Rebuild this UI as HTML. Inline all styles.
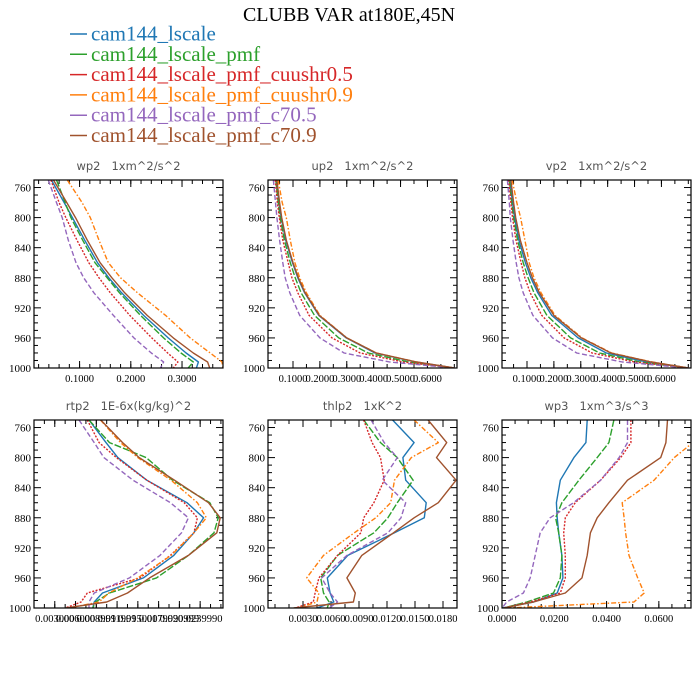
<!DOCTYPE html>
<html><head><meta charset="utf-8"><style>
html,body{margin:0;padding:0;background:#fff;}
svg{display:block;}
text{white-space:pre;}
</style></head><body>
<svg id="chart" width="700" height="700" viewBox="0 0 700 700" xmlns="http://www.w3.org/2000/svg">
<text x="349" y="21" text-anchor="middle" font-family="Liberation Serif, serif" font-size="20" fill="#000">CLUBB VAR at180E,45N</text>
<g id="legend"></g>
<g id="panels"></g>
</svg>
<script>
const seriesNames = ["cam144_lscale","cam144_lscale_pmf","cam144_lscale_pmf_cuushr0.5","cam144_lscale_pmf_cuushr0.9","cam144_lscale_pmf_c70.5","cam144_lscale_pmf_c70.9"];
const levels = [750,780,800,830,860,880,900,930,960,980,992,1000];

const wp2Blue   = [0.045,0.070,0.086,0.110,0.135,0.157,0.182,0.225,0.273,0.308,0.332,0.328];
const wp2Green  = [0.055,0.072,0.083,0.106,0.130,0.154,0.178,0.219,0.264,0.298,0.322,0.312];
const wp2Red    = [0.044,0.060,0.073,0.095,0.118,0.138,0.160,0.198,0.241,0.272,0.292,0.283];
const wp2Orange = [0.076,0.105,0.121,0.138,0.156,0.180,0.213,0.268,0.316,0.355,0.378,0.380];
const wp2Purple = [0.039,0.055,0.066,0.078,0.093,0.108,0.128,0.166,0.206,0.240,0.264,0.258];
const wp2Brown  = [0.049,0.075,0.092,0.115,0.140,0.163,0.188,0.232,0.283,0.322,0.350,0.354];

const up2Blue   = [0.038,0.048,0.056,0.073,0.098,0.118,0.143,0.196,0.298,0.405,0.555,0.700];
const up2Green  = [0.036,0.045,0.052,0.068,0.090,0.108,0.130,0.180,0.270,0.380,0.530,0.700];
const up2Red    = [0.034,0.042,0.049,0.062,0.082,0.096,0.118,0.160,0.245,0.350,0.510,0.700];
const up2Orange = [0.045,0.060,0.075,0.090,0.107,0.125,0.150,0.200,0.300,0.410,0.560,0.700];
const up2Purple = [0.027,0.035,0.040,0.050,0.062,0.071,0.088,0.125,0.200,0.290,0.460,0.700];
const up2Brown  = [0.040,0.050,0.058,0.075,0.100,0.120,0.145,0.198,0.300,0.410,0.560,0.700];

const vp2Blue   = [0.036,0.046,0.054,0.070,0.094,0.114,0.140,0.192,0.290,0.395,0.545,0.700];
const vp2Green  = [0.034,0.043,0.050,0.065,0.086,0.104,0.126,0.174,0.262,0.370,0.520,0.700];
const vp2Red    = [0.032,0.040,0.046,0.059,0.078,0.092,0.112,0.155,0.238,0.342,0.500,0.700];
const vp2Orange = [0.045,0.062,0.076,0.092,0.108,0.126,0.152,0.204,0.305,0.415,0.565,0.700];
const vp2Purple = [0.027,0.034,0.038,0.048,0.060,0.070,0.086,0.122,0.195,0.285,0.455,0.700];
const vp2Brown  = [0.040,0.050,0.058,0.075,0.100,0.120,0.146,0.200,0.302,0.412,0.562,0.700];

const rtp2Blue   = [7.95,10.4,12.1,16.3,22.1,24.5,23.1,20.2,15.8,9.9,8.7,8.5];
const rtp2Green  = [7.95,10.9,16.2,20.0,25.4,26.6,26.0,22.3,17.7,10.9,8.9,8.5];
const rtp2Red    = [7.7,9.4,11.9,16.3,21.7,23.6,23.1,19.7,15.3,7.7,6.8,4.5];
const rtp2Orange = [9.6,12.5,15.0,19.8,23.6,24.9,23.1,19.8,15.0,10.8,9.4,5.0];
const rtp2Purple = [6.5,8.7,10.1,14.3,19.7,22.3,21.3,18.2,13.8,8.7,7.95,7.95];
const rtp2Brown  = [9.65,12.8,15.2,20.3,25.2,26.9,26.4,22.3,16.7,13.5,10.5,4.6];

const thlp2Blue   = [0.0126,0.0149,0.0137,0.0140,0.0162,0.0160,0.0128,0.0078,0.0056,0.0059,0.0063,0.0045];
const thlp2Green  = [0.0095,0.0113,0.0131,0.0148,0.0131,0.0121,0.0106,0.0067,0.0049,0.0052,0.0058,0.0056];
const thlp2Red    = [0.0095,0.0104,0.0113,0.0117,0.0106,0.0095,0.0092,0.0067,0.0047,0.0043,0.0041,0.0022];
const thlp2Orange = [0.0149,0.0175,0.0146,0.0128,0.0124,0.0108,0.0085,0.0052,0.0034,0.0047,0.0045,0.0025];
const thlp2Purple = [0.0103,0.0117,0.0131,0.0115,0.0140,0.0135,0.0121,0.0077,0.0050,0.0059,0.0067,0.0058];
const thlp2Brown  = [0.0164,0.0184,0.0173,0.0194,0.0175,0.0149,0.0127,0.0093,0.0077,0.0086,0.0084,0.0020];

const wp3Blue   = [0.0326,0.0321,0.0275,0.0223,0.0208,0.0211,0.0217,0.0229,0.0233,0.0211,0.0121,0.0000];
const wp3Green  = [0.0428,0.0409,0.0364,0.0294,0.0229,0.0205,0.0217,0.0229,0.0223,0.0197,0.0095,0.0006];
const wp3Red    = [0.0493,0.0493,0.0454,0.0377,0.0280,0.0242,0.0236,0.0242,0.0242,0.0223,0.0108,0.0006];
const wp3Orange = [0.0749,0.0730,0.0659,0.0582,0.0460,0.0467,0.0473,0.0486,0.0519,0.0544,0.0505,0.0019];
const wp3Purple = [0.0480,0.0480,0.0448,0.0377,0.0274,0.0184,0.0146,0.0127,0.0108,0.0082,0.0018,0.0000];
const wp3Brown  = [0.0633,0.0627,0.0607,0.0480,0.0409,0.0364,0.0338,0.0326,0.0306,0.0242,0.0121,0.0006];

const yTicks = [760,800,840,880,920,960,1000];
const wp2Ticks = [0.1,0.2,0.3];
const wp2TickLabels = ["0.1000","0.2000","0.3000"];
const up2Ticks = [0.1,0.2,0.3,0.4,0.5,0.6];
const up2TickLabels = ["0.1000","0.2000","0.3000","0.4000","0.5000","0.6000"];
const rtp2Ticks = [3,6,9,12,15,18,21,24];
const rtp2TickLabels = ["0.003000","0.006000","0.008999","0.011999","0.015000","0.017999","0.020999","0.0239990"];
const thlp2Ticks = [0.003,0.006,0.009,0.012,0.015,0.018];
const thlp2TickLabels = ["0.0030","0.0060","0.0090","0.0120","0.0150","0.0180"];
const wp3Ticks = [0,0.02,0.04,0.06];
const wp3TickLabels = ["0.0000","0.0200","0.0400","0.0600"];

const colors = ["#1f77b4","#2ca02c","#d62728","#ff7f0e","#9467bd","#a0522d"];
const dashes = ["", "7,2", "2,1.5", "5,2,1.5,2", "5,2.5", ""];

const NS = "http://www.w3.org/2000/svg";
function mk(tag, attrs, parent){ const e=document.createElementNS(NS,tag); for(const k in attrs) e.setAttribute(k,attrs[k]); if(parent) parent.appendChild(e); return e; }

const lg = document.getElementById('legend');
seriesNames.forEach((n,i)=>{
  const y = 34 + i*20.3;
  const ln = mk('line',{x1:70,x2:87,y1:y,y2:y,stroke:colors[i],'stroke-width':1.5},lg);
  
  
  const t = mk('text',{x:91,y:y+6.5,'font-family':'Liberation Serif, serif','font-size':21,fill:colors[i]},lg);
  t.textContent = n;
  
  
});

const panels = [
  {id:'wp2', title:'wp2   1xm^2/s^2', col:0,row:0, dom:[0.011,0.380], minor:0.02, ticks:wp2Ticks, labels:wp2TickLabels, series:[wp2Blue,wp2Green,wp2Red,wp2Orange,wp2Purple,wp2Brown]},
  {id:'up2', title:'up2   1xm^2/s^2', col:1,row:0, dom:[0.007,0.71], minor:0.05, ticks:up2Ticks, labels:up2TickLabels, series:[up2Blue,up2Green,up2Red,up2Orange,up2Purple,up2Brown]},
  {id:'vp2', title:'vp2   1xm^2/s^2', col:2,row:0, dom:[0.007,0.71], minor:0.05, ticks:up2Ticks, labels:up2TickLabels, series:[vp2Blue,vp2Green,vp2Red,vp2Orange,vp2Purple,vp2Brown]},
  {id:'rtp2', title:'rtp2   1E-6x(kg/kg)^2', col:0,row:1, dom:[0,27.3], minor:1.5, ticks:rtp2Ticks, labels:rtp2TickLabels, series:[rtp2Blue,rtp2Green,rtp2Red,rtp2Orange,rtp2Purple,rtp2Brown]},
  {id:'thlp2', title:'thlp2   1xK^2', col:1,row:1, dom:[-0.00075,0.0195], minor:0.0015, ticks:thlp2Ticks, labels:thlp2TickLabels, series:[thlp2Blue,thlp2Green,thlp2Red,thlp2Orange,thlp2Purple,thlp2Brown]},
  {id:'wp3', title:'wp3   1xm^3/s^3', col:2,row:1, dom:[0,0.0723], minor:0.005, ticks:wp3Ticks, labels:wp3TickLabels, series:[wp3Blue,wp3Green,wp3Red,wp3Orange,wp3Purple,wp3Brown]}
];

const root = document.getElementById('panels');
panels.forEach(P=>{
  const L = 34 + P.col*234, T = 180 + P.row*240, W = 189, H = 188;
  const xs = v => L + (v-P.dom[0])/(P.dom[1]-P.dom[0])*W;
  const ys = p => T + (p-750)/250*H;
  const g = mk('g',{},root);
  
  
  const tt = mk('text',{x:L+W/2,y:T-10,'text-anchor':'middle','font-family':'DejaVu Sans, sans-serif','font-size':11.5,fill:'#555'},g);
  tt.textContent = P.title;
  
  
  const cp = mk('clipPath',{id:'clip-'+P.id},g);
  mk('rect',{x:L,y:T,width:W,height:H},cp);
  for(let p=750;p<=1000;p+=10){
    const y=ys(p), major=(p-760)%40===0;
    const len = major?7:4;
    mk('line',{x1:L,x2:L+len,y1:y,y2:y,stroke:'#000','stroke-width':1},g);
    mk('line',{x1:L+W,x2:L+W-len,y1:y,y2:y,stroke:'#000','stroke-width':1},g);
  }
  yTicks.forEach(p=>{
    const t=mk('text',{x:L-3,y:ys(p)+4,'text-anchor':'end','font-family':'Liberation Serif, serif','font-size':11,fill:'#000'},g);
    t.textContent=String(p);
    
    
  });
  const start = Math.ceil(P.dom[0]/P.minor)*P.minor;
  for(let v=start; v<=P.dom[1]+1e-12; v+=P.minor){
    const x=xs(v);
    mk('line',{x1:x,x2:x,y1:T+H,y2:T+H-4,stroke:'#000','stroke-width':1},g);
    mk('line',{x1:x,x2:x,y1:T,y2:T+4,stroke:'#000','stroke-width':1},g);
  }
  P.ticks.forEach((v,i)=>{
    const x=xs(v);
    mk('line',{x1:x,x2:x,y1:T+H,y2:T+H-7,stroke:'#000','stroke-width':1},g);
    mk('line',{x1:x,x2:x,y1:T,y2:T+7,stroke:'#000','stroke-width':1},g);
    const t=mk('text',{x:x,y:T+H+14,'text-anchor':'middle','font-family':'Liberation Serif, serif','font-size':10.5,fill:'#000'},g);
    t.textContent=P.labels[i];
    
    
  });
  const sg = mk('g',{'clip-path':'url(#clip-'+P.id+')'},g);
  P.series.forEach((arr,i)=>{
    const pts = arr.map((v,k)=>xs(v).toFixed(1)+','+ys(levels[k]).toFixed(1)).join(' ');
    const pl = mk('polyline',{points:pts,fill:'none',stroke:colors[i],'stroke-width':1.4,'stroke-linejoin':'round'},sg);
    if(dashes[i]) pl.setAttribute('stroke-dasharray',dashes[i]);
    
    
  });
  const fr = mk('rect',{x:L,y:T,width:W,height:H,fill:'none',stroke:'#000','stroke-width':1.2},g);
  
  
});
</script>
</body></html>
